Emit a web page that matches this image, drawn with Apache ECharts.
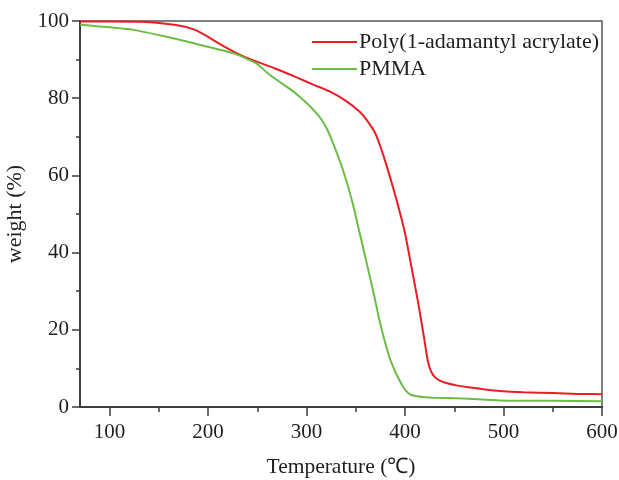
<!DOCTYPE html>
<html>
<head>
<meta charset="utf-8">
<script src="https://cdn.jsdelivr.net/npm/echarts@6/dist/echarts.min.js"></script>
<style>
  html, body { margin: 0; padding: 0; background: #fff; }
  #chart { width: 619px; height: 480px; }
</style>
</head>
<body>
<div id="chart"></div>
<script>
// TGA curves: temperature (°C) vs remaining weight (%)
const seriesNames = ['Poly(1-adamantyl acrylate)', 'PMMA'];

const polyTemp   = [70, 100, 132, 166, 187, 200, 217, 237, 268, 290, 308, 324, 340, 354, 361, 369, 374, 381, 391, 400, 406, 413, 419, 423, 426, 430, 435, 442, 452, 462, 480, 496, 520, 550, 575, 600];
const polyWeight = [99.9, 99.9, 99.8, 99.0, 97.7, 95.9, 93.3, 90.7, 87.7, 85.4, 83.4, 81.7, 79.3, 76.5, 74.4, 71.3, 68.2, 62.8, 54.0, 45.0, 37.0, 27.5, 18.5, 12.1, 9.5, 7.8, 6.9, 6.2, 5.6, 5.2, 4.6, 4.15, 3.8, 3.6, 3.4, 3.3];

const pmmaTemp   = [70, 124, 158, 192, 226, 249, 260, 270, 282, 293, 304, 313, 320, 327, 337, 346, 354, 362, 369, 374, 384, 390, 395, 400, 405, 412, 418, 428, 459, 496, 550, 600];
const pmmaWeight = [99.0, 97.7, 95.9, 93.8, 91.6, 89.0, 86.6, 84.7, 82.6, 80.4, 77.8, 75.2, 72.4, 68.3, 61.4, 53.6, 45.0, 36.3, 28.5, 22.5, 13.0, 9.2, 6.6, 4.5, 3.3, 2.8, 2.6, 2.4, 2.2, 1.7, 1.6, 1.5];

const xMajorTicks = [100, 200, 300, 400, 500, 600];
const xMinorTicks = [150, 250, 350, 450, 550];

const seriesColors = ['#ec1c24', '#6cbd45'];

const zip = (xs, ys) => xs.map((x, i) => [x, ys[i]]);

const serif = 'Liberation Serif, Times New Roman, serif';
const axisColor = '#3c3c3c';
const textColor = '#1e1e1e';

const chart = echarts.init(document.getElementById('chart'), null, { renderer: 'canvas' });

chart.setOption({
  animation: false,
  backgroundColor: '#ffffff',
  grid: {
    left: 80, right: 17, top: 21, bottom: 73,
    containLabel: false,
    outerBoundsMode: 'none',
    show: true,
    borderColor: '#555',
    borderWidth: 1.5,
    backgroundColor: 'transparent'
  },
  legend: {
    orient: 'vertical',
    left: 307,
    top: 26,
    icon: 'rect',
    itemWidth: 45,
    itemHeight: 2,
    itemGap: 5,
    selectedMode: false,
    textStyle: { fontFamily: serif, fontSize: 22, color: textColor, padding: [0, 0, 0, -3] },
    data: seriesNames
  },
  xAxis: [
    {
      type: 'value',
      min: 70,
      max: 600,
      name: 'Temperature (\u2103)',
      nameLocation: 'middle',
      nameGap: 49,
      nameTextStyle: { fontFamily: serif, fontSize: 21.5, color: textColor },
      splitLine: { show: false },
      axisLine: { show: true, onZero: false, lineStyle: { color: axisColor, width: 2 } },
      axisTick: { show: true, length: 9, customValues: xMajorTicks, lineStyle: { color: axisColor, width: 1.5 } },
      axisLabel: { customValues: xMajorTicks, margin: 15, fontFamily: serif, fontSize: 21, color: textColor }
    },
    {
      type: 'value',
      min: 70,
      max: 600,
      position: 'bottom',
      offset: 0,
      splitLine: { show: false },
      axisLine: { show: false, onZero: false },
      axisTick: { show: true, length: 5, customValues: xMinorTicks, lineStyle: { color: axisColor, width: 1.5 } },
      axisLabel: { show: false }
    }
  ],
  yAxis: {
    type: 'value',
    min: 0,
    max: 100,
    interval: 20,
    name: 'weight (%)',
    nameLocation: 'middle',
    nameGap: 47,
    nameTextStyle: { fontFamily: serif, fontSize: 22, color: textColor },
    splitLine: { show: false },
    axisLine: { show: true, onZero: false, lineStyle: { color: axisColor, width: 2 } },
    axisTick: { show: true, length: 8, lineStyle: { color: axisColor, width: 1.5 } },
    minorTick: { show: true, splitNumber: 2, length: 4, lineStyle: { color: axisColor, width: 1.5 } },
    minorSplitLine: { show: false },
    axisLabel: { margin: 11, fontFamily: serif, fontSize: 21, color: textColor }
  },
  series: [
    {
      name: seriesNames[0],
      type: 'line',
      xAxisIndex: 0,
      data: zip(polyTemp, polyWeight),
      symbol: 'none',
      smooth: 0.2,
      color: seriesColors[0],
      lineStyle: { width: 2, color: seriesColors[0] }
    },
    {
      name: seriesNames[1],
      type: 'line',
      xAxisIndex: 0,
      data: zip(pmmaTemp, pmmaWeight),
      symbol: 'none',
      smooth: 0.2,
      color: seriesColors[1],
      lineStyle: { width: 2, color: seriesColors[1] }
    }
  ]
});
</script>
</body>
</html>
